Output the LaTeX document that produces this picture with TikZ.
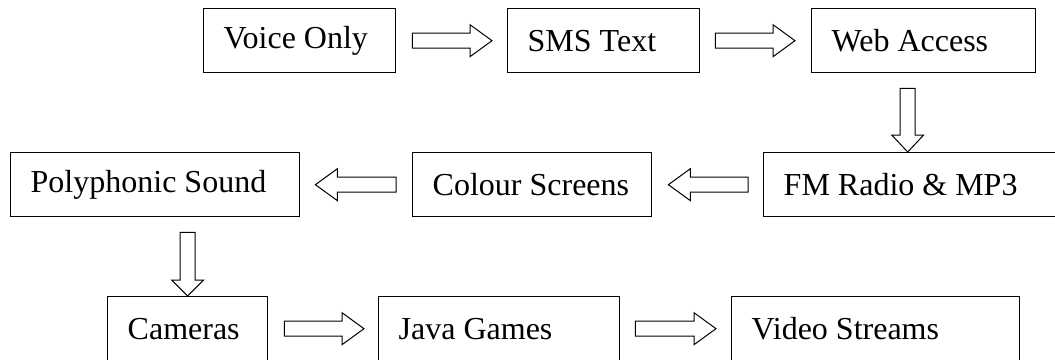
\documentclass[tikz,border=0pt]{standalone}
\usepackage{fontspec}
\setmainfont{Liberation Serif}
\usetikzlibrary{calc}
\tikzset{
  box/.style={draw, line width=1.4pt, anchor=north west, inner xsep=20pt, inner ysep=0pt, minimum height=64pt, font=\fontsize{32}{36}\selectfont},
  fat/.style={draw, line width=1pt, line join=miter}
}
\newcommand{\lbox}[2]{\makebox[#1][l]{#2}}
\newcommand{\fatarrow}[3]{%
  \path ($(#2)!#3!(#1)$) coordinate (hb);
  \draw[fat] ($(#1)!7.5pt!90:(#2)$) -- ($(hb)!7.5pt!90:(#2)$) -- ($(hb)!16pt!90:(#2)$) -- (#2)
    -- ($(hb)!16pt!-90:(#2)$) -- ($(hb)!7.5pt!-90:(#2)$) -- ($(#1)!7.5pt!-90:(#2)$) -- cycle;}
\begin{document}
\begin{tikzpicture}[x=1pt,y=-1pt]
   \clip (0,0) rectangle (1055,359);
   \node[box] (voice) at (203,8) {\lbox{152pt}{Voice Only}};
   \node[box] (sms) at (507,8) {\lbox{152pt}{SMS Text}};
   \node[box] (web) at (811,8) {\lbox{184pt}{Web Access}};
   \node[box] (fm) at (763,152) {\lbox{300pt}{FM Radio \& MP3}};
   \node[box] (colour) at (412,152) {\lbox{199pt}{Colour Screens}};
   \node[box] (poly) at (10,152) {\lbox{249pt}{Polyphonic Sound}};
   \node[box] (cameras) at (107,296) {\lbox{120pt}{Cameras}};
   \node[box] (java) at (378,296) {\lbox{201pt}{Java Games}};
   \node[box] (video) at (731,296) {\lbox{248pt}{Video Streams}};
   \coordinate (a1s) at ($(voice.east)+(16,0)$);\coordinate (a1e) at ($(sms.west)+(-15,0)$);
   \coordinate (a2s) at ($(sms.east)+(15,0)$);\coordinate (a2e) at ($(web.west)+(-16,0)$);
   \coordinate (a3s) at ($(web.south)+(-16,15)$);\coordinate (a3e) at (a3s |- fm.north);
   \coordinate (a4s) at ($(fm.west)+(-15,0)$);\coordinate (a4e) at ($(colour.east)+(16,0)$);
   \coordinate (a5s) at ($(colour.west)+(-16,0)$);\coordinate (a5e) at ($(poly.east)+(15,0)$);
   \coordinate (a6e) at (cameras.north);\coordinate (a6s) at ($(a6e |- poly.south)+(0,15)$);
   \coordinate (a7s) at ($(cameras.east)+(16,0)$);\coordinate (a7e) at ($(java.west)+(-14,0)$);
   \coordinate (a8s) at ($(java.east)+(15,0)$);\coordinate (a8e) at ($(video.west)+(-15,0)$);
   \fatarrow{a1s}{a1e}{22pt}\fatarrow{a2s}{a2e}{22pt}
   \fatarrow{a3s}{a3e}{17pt}
   \fatarrow{a4s}{a4e}{22pt}\fatarrow{a5s}{a5e}{22pt}
   \fatarrow{a6s}{a6e}{16pt}
   \fatarrow{a7s}{a7e}{22pt}\fatarrow{a8s}{a8e}{22pt}
\end{tikzpicture}
\end{document}
